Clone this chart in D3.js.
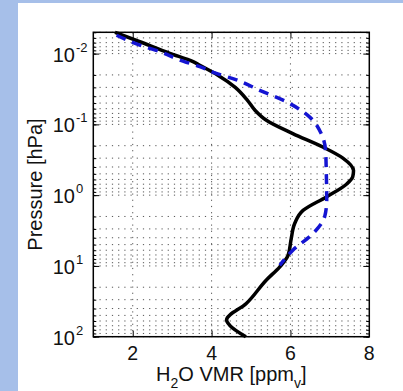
<!DOCTYPE html>
<html>
<head>
<meta charset="utf-8">
<script src="https://cdnjs.cloudflare.com/ajax/libs/d3/7.8.5/d3.min.js"></script>
<style>
  body { margin: 0; background: #a6bfe9; }
  svg { display: block; font-family: "Liberation Sans", Arial, sans-serif; }
</style>
</head>
<body>
<div id="chart"></div>
<script>
// solid black profile: pressure [hPa] and VMR [ppmv]
var solidP   = [0.005, 0.0068, 0.0099, 0.013, 0.0146, 0.02, 0.03, 0.045, 0.063, 0.0875, 0.135, 0.209, 0.30, 0.45, 0.55, 0.70, 1.06, 1.64, 2.5, 4.1, 7.1, 10.3, 15.8, 34, 58, 69, 100];
var solidVmr = [1.55, 2.18, 2.94, 3.53, 3.70, 4.15, 4.6, 4.9, 5.1, 5.39, 6.06, 6.82, 7.33, 7.6, 7.58, 7.42, 6.91, 6.32, 6.11, 6.02, 5.94, 5.73, 5.39, 4.88, 4.38, 4.46, 4.87];
// dashed blue profile
var dashP   = [0.0055, 0.0076, 0.0094, 0.0123, 0.0153, 0.019, 0.0235, 0.033, 0.048, 0.079, 0.135, 0.232, 0.5, 1.18, 2.0, 3.5, 6.0, 9.8];
var dashVmr = [1.59, 2.18, 2.69, 3.19, 3.70, 4.12, 4.63, 5.22, 5.90, 6.49, 6.78, 6.89, 6.91, 6.92, 6.87, 6.57, 6.06, 5.73];

var xTicks = [2, 4, 6, 8];
var yExps = [-2, -1, 0, 1, 2];

var width = 403, height = 391;
var mLeft = 93.3, mRight = 369.3, mTop = 32.3, mBottom = 336.7;

var svg = d3.select('#chart').append("svg")
  .attr("width", width)
  .attr("height", height);

// white panel on the blue page
svg.append("rect")
  .attr("x", 18).attr("y", 3)
  .attr("width", width - 18).attr("height", height - 3)
  .attr("fill", "#ffffff");

var xScale = d3.scaleLinear().domain([1, 8]).range([mLeft, mRight]);
var yScale = d3.scaleLog().domain([0.005, 100]).range([mTop, mBottom]);

// minor log values inside the domain
var minors = [];
for (var e = -3; e <= 2; e++) {
  for (var k = 1; k <= 9; k++) {
    var v = k * Math.pow(10, e);
    if (v >= 0.005 && v <= 100) minors.push(v);
  }
}
var majorsY = yExps.map(function(e) { return Math.pow(10, e); });

// grid
var grid = svg.append("g")
  .attr("stroke", "#555")
  .attr("stroke-width", 1)
  .attr("stroke-dasharray", "1.2,5");
grid.selectAll("line.h").data(minors).enter().append("line")
  .attr("x1", mLeft).attr("x2", mRight)
  .attr("y1", function(d) { return yScale(d); })
  .attr("y2", function(d) { return yScale(d); });
grid.selectAll("line.v").data([2, 4, 6]).enter().append("line")
  .attr("y1", mTop).attr("y2", mBottom)
  .attr("x1", function(d) { return xScale(d); })
  .attr("x2", function(d) { return xScale(d); });

// inside ticks on all four sides
function clean(g) {
  g.select(".domain").remove();
  g.selectAll("text").remove();
  g.selectAll("line").attr("stroke", "#000").attr("stroke-width", 1);
}
svg.append("g").attr("transform", "translate(0," + mBottom + ")")
  .call(d3.axisBottom(xScale).tickValues([2, 4, 6]).tickSizeInner(-6)).call(clean);
svg.append("g").attr("transform", "translate(0," + mTop + ")")
  .call(d3.axisTop(xScale).tickValues([2, 4, 6]).tickSizeInner(-6)).call(clean);
svg.append("g").attr("transform", "translate(" + mLeft + ",0)")
  .call(d3.axisLeft(yScale).tickValues(minors).tickSizeInner(-3)).call(clean);
svg.append("g").attr("transform", "translate(" + mRight + ",0)")
  .call(d3.axisRight(yScale).tickValues(minors).tickSizeInner(-3)).call(clean);
svg.append("g").attr("transform", "translate(" + mLeft + ",0)")
  .call(d3.axisLeft(yScale).tickValues(majorsY).tickSizeInner(-6)).call(clean);
svg.append("g").attr("transform", "translate(" + mRight + ",0)")
  .call(d3.axisRight(yScale).tickValues(majorsY).tickSizeInner(-6)).call(clean);

// curves
var line = d3.line()
  .x(function(d) { return xScale(d.x); })
  .y(function(d) { return yScale(d.y); })
  .curve(d3.curveMonotoneY);

var solid = [];
for (var i = 0; i < solidP.length; i++) solid.push({"x": solidVmr[i], "y": solidP[i]});
var dashed = [];
for (var j = 0; j < dashP.length; j++) dashed.push({"x": dashVmr[j], "y": dashP[j]});

var plot = svg.append("g");
plot.append("path")
  .attr("d", line(solid))
  .attr("stroke", "#000")
  .attr("stroke-width", 3.5)
  .attr("stroke-linejoin", "round")
  .attr("fill", "none");
plot.append("path")
  .attr("d", line(dashed))
  .attr("stroke", "#1414d2")
  .attr("stroke-width", 3.5)
  .attr("stroke-dasharray", "10,7")
  .attr("fill", "none");

// frame
svg.append("rect")
  .attr("x", mLeft).attr("y", mTop)
  .attr("width", mRight - mLeft).attr("height", mBottom - mTop)
  .attr("fill", "none")
  .attr("stroke", "#000")
  .attr("stroke-width", 1.5);

// x tick labels
svg.selectAll("text.xt").data(xTicks).enter().append("text")
  .attr("x", function(d) { return xScale(d); })
  .attr("y", mBottom + 23.5)
  .attr("text-anchor", "middle")
  .attr("font-size", 19.5)
  .attr("fill", "#111")
  .text(function(d) { return d; });

// y tick labels 10^n
var yl = svg.selectAll("g.yt").data(yExps).enter().append("g")
  .attr("transform", function(d) { return "translate(0," + yScale(Math.pow(10, d)) + ")"; });
yl.append("text")
  .attr("x", 75).attr("y", 8)
  .attr("text-anchor", "end")
  .attr("font-size", 20)
  .attr("fill", "#111")
  .text("10");
yl.append("text")
  .attr("x", 76).attr("y", -2)
  .attr("font-size", 13)
  .attr("fill", "#111")
  .text(function(d) { return d; });

// axis titles
var xt = svg.append("text")
  .attr("x", (mLeft + mRight) / 2)
  .attr("y", 380.5)
  .attr("text-anchor", "middle")
  .attr("font-size", 20)
  .attr("fill", "#111");
xt.append("tspan").text("H");
xt.append("tspan").attr("font-size", 14).attr("dy", 7).text("2");
xt.append("tspan").attr("dy", -7).text("O VMR [ppm");
xt.append("tspan").attr("font-size", 14).attr("dy", 7).text("v");
xt.append("tspan").attr("dy", -7).text("]");

svg.append("text")
  .attr("transform", "translate(41.5," + ((mTop + mBottom) / 2) + ") rotate(-90)")
  .attr("text-anchor", "middle")
  .attr("font-size", 20)
  .attr("fill", "#111")
  .text("Pressure [hPa]");
</script>
</body>
</html>
